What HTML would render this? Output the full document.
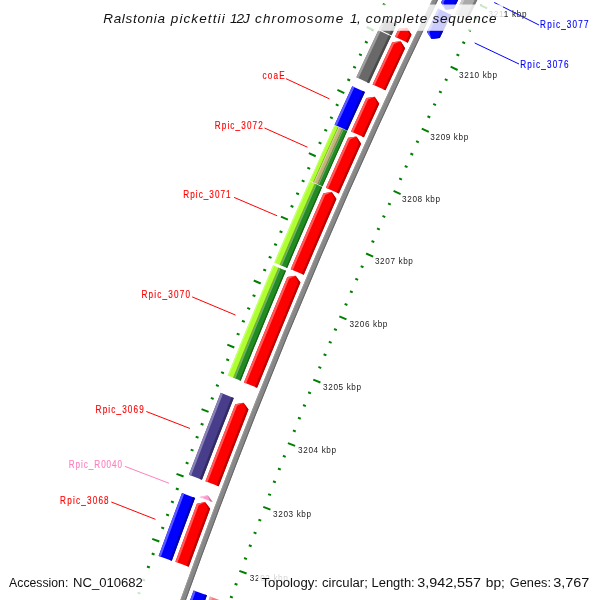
<!DOCTYPE html>
<html><head><meta charset="utf-8"><style>
html,body{margin:0;padding:0;background:#fff;}
svg{display:block;}
text{font-family:"Liberation Sans",sans-serif;}
svg{will-change:transform;}
.kb{font-size:8.2px;fill:#222;}
.gl{font-size:10.2px;}
</style></head><body>
<svg width="600" height="600" viewBox="0 0 600 600">
<rect width="600" height="600" fill="#fff"/>
<path d="M161.83,652.43A6141.4,6141.4 0 0 1 469.78,-76.60L474.52,-74.22A6136.1,6136.1 0 0 0 166.84,654.17Z" fill="#888888"/>
<path d="M161.83,652.43A6141.4,6141.4 0 0 1 469.78,-76.60L470.63,-76.17A6140.4,6140.4 0 0 0 162.73,652.74Z" fill="#9a9a9a"/>
<path d="M165.93,653.86A6137.0,6137.0 0 0 1 473.67,-74.65L474.52,-74.22A6136.1,6136.1 0 0 0 166.84,654.17Z" fill="#666666"/>
<path d="M158.64,555.97A6176.8,6176.8 0 0 1 182.00,492.99L195.10,497.93A6162.8,6162.8 0 0 0 171.79,560.77Z" fill="#0000ff"/>
<path d="M158.64,555.97A6176.8,6176.8 0 0 1 182.00,492.99L184.25,493.83A6174.4,6174.4 0 0 0 160.89,556.80Z" fill="#5959ff"/>
<path d="M169.54,559.95A6165.2,6165.2 0 0 1 192.86,497.08L195.10,497.93A6162.8,6162.8 0 0 0 171.79,560.77Z" fill="#0000b2"/>
<path d="M188.88,474.85A6176.8,6176.8 0 0 1 220.76,392.87L233.77,398.04A6162.8,6162.8 0 0 0 201.96,479.83Z" fill="#483d8b"/>
<path d="M188.88,474.85A6176.8,6176.8 0 0 1 220.76,392.87L222.99,393.76A6174.4,6174.4 0 0 0 191.12,475.70Z" fill="#8881b4"/>
<path d="M199.72,478.98A6165.2,6165.2 0 0 1 231.54,397.15L233.77,398.04A6162.8,6162.8 0 0 0 201.96,479.83Z" fill="#322b61"/>
<path d="M227.69,375.50A6176.8,6176.8 0 0 1 273.06,265.35L279.50,268.08A6169.8,6169.8 0 0 0 234.19,378.10Z" fill="#adff2f"/>
<path d="M227.69,375.50A6176.8,6176.8 0 0 1 273.06,265.35L274.22,265.84A6175.5,6175.5 0 0 0 228.86,375.97Z" fill="#caff78"/>
<path d="M233.02,377.64A6171.0,6171.0 0 0 1 278.34,267.59L279.50,268.08A6169.8,6169.8 0 0 0 234.19,378.10Z" fill="#79b221"/>
<path d="M234.19,378.10A6169.8,6169.8 0 0 1 279.50,268.08L285.95,270.81A6162.8,6162.8 0 0 0 240.68,380.71Z" fill="#228b22"/>
<path d="M234.19,378.10A6169.8,6169.8 0 0 1 279.50,268.08L280.66,268.57A6168.5,6168.5 0 0 0 235.36,378.57Z" fill="#6fb46f"/>
<path d="M239.51,380.24A6164.0,6164.0 0 0 1 284.79,270.31L285.95,270.81A6162.8,6162.8 0 0 0 240.68,380.71Z" fill="#186118"/>
<path d="M274.27,262.48A6176.8,6176.8 0 0 1 309.37,181.29L315.77,184.12A6169.8,6169.8 0 0 0 280.72,265.21Z" fill="#adff2f"/>
<path d="M274.27,262.48A6176.8,6176.8 0 0 1 309.37,181.29L310.52,181.80A6175.5,6175.5 0 0 0 275.43,262.97Z" fill="#caff78"/>
<path d="M279.56,264.72A6171.0,6171.0 0 0 1 314.62,183.61L315.77,184.12A6169.8,6169.8 0 0 0 280.72,265.21Z" fill="#79b221"/>
<path d="M280.72,265.21A6169.8,6169.8 0 0 1 315.77,184.12L322.18,186.94A6162.8,6162.8 0 0 0 287.16,267.94Z" fill="#228b22"/>
<path d="M280.72,265.21A6169.8,6169.8 0 0 1 315.77,184.12L316.93,184.62A6168.5,6168.5 0 0 0 281.88,265.70Z" fill="#6fb46f"/>
<path d="M286.00,267.45A6164.0,6164.0 0 0 1 321.03,186.43L322.18,186.94A6162.8,6162.8 0 0 0 287.16,267.94Z" fill="#186118"/>
<path d="M309.65,180.66A6176.8,6176.8 0 0 1 334.46,125.14L338.71,127.06A6172.1,6172.1 0 0 0 313.92,182.54Z" fill="#adff2f"/>
<path d="M309.65,180.66A6176.8,6176.8 0 0 1 334.46,125.14L335.28,125.51A6175.9,6175.9 0 0 0 310.47,181.02Z" fill="#caff78"/>
<path d="M313.09,182.18A6173.0,6173.0 0 0 1 337.89,126.69L338.71,127.06A6172.1,6172.1 0 0 0 313.92,182.54Z" fill="#79b221"/>
<path d="M313.92,182.54A6172.1,6172.1 0 0 1 338.71,127.06L342.96,128.99A6167.4,6167.4 0 0 0 318.19,184.42Z" fill="#c0b476"/>
<path d="M313.92,182.54A6172.1,6172.1 0 0 1 338.71,127.06L339.53,127.43A6171.2,6171.2 0 0 0 314.74,182.91Z" fill="#d6cea6"/>
<path d="M317.36,184.06A6168.3,6168.3 0 0 1 342.14,128.62L342.96,128.99A6167.4,6167.4 0 0 0 318.19,184.42Z" fill="#867e53"/>
<path d="M318.19,184.42A6167.4,6167.4 0 0 1 342.96,128.99L347.21,130.91A6162.8,6162.8 0 0 0 322.46,186.31Z" fill="#228b22"/>
<path d="M318.19,184.42A6167.4,6167.4 0 0 1 342.96,128.99L343.78,129.36A6166.5,6166.5 0 0 0 319.01,184.79Z" fill="#6fb46f"/>
<path d="M321.63,185.94A6163.7,6163.7 0 0 1 346.39,130.54L347.21,130.91A6162.8,6162.8 0 0 0 322.46,186.31Z" fill="#186118"/>
<path d="M334.60,124.82A6176.8,6176.8 0 0 1 352.24,86.21L364.96,92.07A6162.8,6162.8 0 0 0 347.35,130.60Z" fill="#0000ff"/>
<path d="M334.60,124.82A6176.8,6176.8 0 0 1 352.24,86.21L354.42,87.21A6174.4,6174.4 0 0 0 336.78,125.81Z" fill="#5959ff"/>
<path d="M345.17,129.61A6165.2,6165.2 0 0 1 362.78,91.06L364.96,92.07A6162.8,6162.8 0 0 0 347.35,130.60Z" fill="#0000b2"/>
<path d="M356.37,77.28A6176.8,6176.8 0 0 1 378.39,30.23L391.05,36.22A6162.8,6162.8 0 0 0 369.07,83.16Z" fill="#696969"/>
<path d="M356.37,77.28A6176.8,6176.8 0 0 1 378.39,30.23L380.56,31.26A6174.4,6174.4 0 0 0 358.55,78.29Z" fill="#9e9e9e"/>
<path d="M366.90,82.15A6165.2,6165.2 0 0 1 388.88,35.19L391.05,36.22A6162.8,6162.8 0 0 0 369.07,83.16Z" fill="#4a4a4a"/>
<path d="M378.84,29.29A6176.8,6176.8 0 0 1 384.19,18.03L396.83,24.05A6162.8,6162.8 0 0 0 391.49,35.28Z" fill="#696969"/>
<path d="M378.84,29.29A6176.8,6176.8 0 0 1 384.19,18.03L386.35,19.06A6174.4,6174.4 0 0 0 381.01,30.32Z" fill="#9e9e9e"/>
<path d="M389.32,34.26A6165.2,6165.2 0 0 1 394.66,23.02L396.83,24.05A6162.8,6162.8 0 0 0 391.49,35.28Z" fill="#4a4a4a"/>
<path d="M175.36,561.78A6159.1,6159.1 0 0 1 196.86,503.76L205.09,502.06L210.15,508.76A6144.9,6144.9 0 0 0 188.70,566.65Z" fill="#ff0000"/>
<path d="M175.36,561.78L196.86,503.76L205.09,502.06L198.72,505.34L177.52,562.57Z" fill="#ff5959"/>
<path d="M188.70,566.65L210.15,508.76L205.09,502.06L207.71,508.72L186.54,565.86Z" fill="#bf0000"/>
<path d="M205.42,481.15A6159.1,6159.1 0 0 1 235.30,404.22L243.55,402.66L248.50,409.45A6144.9,6144.9 0 0 0 218.69,486.20Z" fill="#ff0000"/>
<path d="M205.42,481.15L235.30,404.22L243.55,402.66L237.13,405.84L207.57,481.97Z" fill="#ff5959"/>
<path d="M218.69,486.20L248.50,409.45L243.55,402.66L246.06,409.37L216.54,485.38Z" fill="#bf0000"/>
<path d="M243.94,382.53A6159.1,6159.1 0 0 1 287.34,277.02L295.63,275.65L300.42,282.54A6144.9,6144.9 0 0 0 257.12,387.81Z" fill="#ff0000"/>
<path d="M243.94,382.53L287.34,277.02L295.63,275.65L289.14,278.68L246.07,383.39Z" fill="#ff5959"/>
<path d="M257.12,387.81L300.42,282.54L295.63,275.65L297.98,282.41L254.99,386.96Z" fill="#bf0000"/>
<path d="M290.65,269.20A6159.1,6159.1 0 0 1 323.42,193.30L331.73,192.05L336.42,199.02A6144.9,6144.9 0 0 0 303.73,274.74Z" fill="#ff0000"/>
<path d="M290.65,269.20L323.42,193.30L331.73,192.05L325.19,194.98L292.77,270.09Z" fill="#ff5959"/>
<path d="M303.73,274.74L336.42,199.02L331.73,192.05L333.98,198.85L301.61,273.84Z" fill="#bf0000"/>
<path d="M325.84,187.80A6159.1,6159.1 0 0 1 348.16,137.79L356.48,136.62L361.10,143.63A6144.9,6144.9 0 0 0 338.84,193.53Z" fill="#ff0000"/>
<path d="M325.84,187.80L348.16,137.79L356.48,136.62L349.92,139.49L327.95,188.73Z" fill="#ff5959"/>
<path d="M338.84,193.53L361.10,143.63L356.48,136.62L358.67,143.44L336.73,192.60Z" fill="#bf0000"/>
<path d="M351.01,131.49A6159.1,6159.1 0 0 1 366.35,97.88L374.68,96.78L379.25,103.82A6144.9,6144.9 0 0 0 363.94,137.35Z" fill="#ff0000"/>
<path d="M351.01,131.49L366.35,97.88L374.68,96.78L368.10,99.60L353.10,132.44Z" fill="#ff5959"/>
<path d="M363.94,137.35L379.25,103.82L374.68,96.78L376.82,103.61L361.85,136.40Z" fill="#bf0000"/>
<path d="M372.58,84.40A6159.1,6159.1 0 0 1 392.27,42.30L400.60,41.28L405.11,48.36A6144.9,6144.9 0 0 0 385.46,90.37Z" fill="#ff0000"/>
<path d="M372.58,84.40L392.27,42.30L400.60,41.28L393.99,44.03L374.66,85.37Z" fill="#ff5959"/>
<path d="M385.46,90.37L405.11,48.36L400.60,41.28L402.68,48.13L383.37,89.40Z" fill="#bf0000"/>
<path d="M394.93,36.68A6159.1,6159.1 0 0 1 398.68,28.76L407.02,27.75L411.51,34.85A6144.9,6144.9 0 0 0 407.76,42.76Z" fill="#ff0000"/>
<path d="M394.93,36.68L398.68,28.76L407.02,27.75L400.41,30.49L397.00,37.67Z" fill="#ff5959"/>
<path d="M407.76,42.76L411.51,34.85L407.02,27.75L409.08,34.61L405.68,41.77Z" fill="#bf0000"/>
<path d="M199.42,496.97A6159.1,6159.1 0 0 1 199.42,496.97L207.65,495.28L212.70,501.99A6144.9,6144.9 0 0 0 212.70,501.99Z" fill="#ff99cc"/>
<path d="M199.42,496.97L199.42,496.97L207.65,495.28L201.28,498.56L201.57,497.78Z" fill="#ffbdde"/>
<path d="M212.70,501.99L212.70,501.99L207.65,495.28L210.26,501.95L210.55,501.17Z" fill="#bf7399"/>
<path d="M193.59,590.39A6132.2,6132.2 0 0 0 158.52,690.23L163.80,696.75L171.96,694.82A6118.0,6118.0 0 0 1 206.95,595.21Z" fill="#0000ff"/>
<path d="M193.59,590.39L158.52,690.23L163.80,696.75L160.96,690.20L195.76,591.17Z" fill="#5959ff"/>
<path d="M206.95,595.21L171.96,694.82L163.80,696.75L170.05,693.30L204.79,594.43Z" fill="#0000bf"/>
<path d="M438.15,8.61A6132.2,6132.2 0 0 0 426.94,31.98L431.43,39.07L439.76,38.10A6118.0,6118.0 0 0 1 450.94,14.78Z" fill="#0000ff"/>
<path d="M438.15,8.61L426.94,31.98L431.43,39.07L429.37,32.23L440.23,9.61Z" fill="#5959ff"/>
<path d="M450.94,14.78L439.76,38.10L431.43,39.07L438.04,36.37L448.87,13.78Z" fill="#0000bf"/>
<path d="M463.61,-43.54A6132.2,6132.2 0 0 0 441.06,2.61L445.50,9.72L453.84,8.79A6118.0,6118.0 0 0 1 476.35,-37.25Z" fill="#0000ff"/>
<path d="M463.61,-43.54L441.06,2.61L445.50,9.72L443.49,2.86L465.68,-42.52Z" fill="#5959ff"/>
<path d="M476.35,-37.25L453.84,8.79L445.50,9.72L452.13,7.05L474.28,-38.27Z" fill="#0000bf"/>
<path d="M173.64,700.11A6114.7,6114.7 0 0 1 209.96,596.59L223.13,601.34A6100.7,6100.7 0 0 0 186.89,704.62Z" fill="#f08080"/>
<path d="M173.64,700.11A6114.7,6114.7 0 0 1 209.96,596.59L212.22,597.41A6112.3,6112.3 0 0 0 175.91,700.88Z" fill="#f5acac"/>
<path d="M184.62,703.85A6103.1,6103.1 0 0 1 220.87,600.53L223.13,601.34A6100.7,6100.7 0 0 0 186.89,704.62Z" fill="#a85a5a"/>
<path d="M454.93,14.12A6114.7,6114.7 0 0 1 479.30,-35.79L491.86,-29.59A6100.7,6100.7 0 0 0 467.54,20.20Z" fill="#aaaaaa"/>
<path d="M454.93,14.12A6114.7,6114.7 0 0 1 479.30,-35.79L481.46,-34.73A6112.3,6112.3 0 0 0 457.09,15.16Z" fill="#c8c8c8"/>
<path d="M465.38,19.16A6103.1,6103.1 0 0 1 489.70,-30.65L491.86,-29.59A6100.7,6100.7 0 0 0 467.54,20.20Z" fill="#777777"/>
<path d="M202.55,673.85L205.39,674.84M122.02,645.90L119.18,644.92M207.05,660.94L209.88,661.93M126.58,632.81L123.74,631.82M211.58,648.04L214.41,649.04M131.17,619.73L128.34,618.73M216.13,635.15L223.39,637.73M135.78,606.66L128.67,604.14M220.72,622.27L223.54,623.28M140.43,593.60L137.61,592.59M225.33,609.41L228.15,610.42M145.11,580.55L142.29,579.54M229.97,596.55L232.79,597.57M149.82,567.51L147.00,566.49M234.64,583.70L237.46,584.73M154.55,554.48L151.73,553.46M239.34,570.86L246.57,573.52M159.32,541.47L152.23,538.86M244.07,558.03L246.88,559.07M164.11,528.46L161.30,527.42M248.82,545.22L251.64,546.26M168.93,515.46L166.12,514.42M253.61,532.41L256.42,533.46M173.79,502.48L170.98,501.43M258.42,519.62L261.23,520.67M178.67,489.50L175.86,488.45M263.27,506.83L270.46,509.57M183.58,476.54L176.52,473.86M268.14,494.06L270.94,495.13M188.52,463.59L185.72,462.52M273.04,481.29L275.84,482.37M193.49,450.65L190.69,449.57M277.97,468.54L280.76,469.63M198.49,437.72L195.69,436.63M282.93,455.80L285.72,456.89M203.51,424.80L200.72,423.71M287.91,443.07L295.08,445.89M208.57,411.89L201.54,409.13M292.93,430.36L295.72,431.46M213.65,399.00L210.86,397.89M297.97,417.65L300.76,418.76M218.77,386.11L215.98,385.00M303.04,404.95L305.82,406.07M223.91,373.24L221.12,372.12M308.14,392.27L310.92,393.39M229.08,360.38L226.30,359.26M313.27,379.60L320.40,382.49M234.28,347.53L227.28,344.69M318.43,366.94L321.20,368.07M239.51,334.69L236.73,333.56M323.61,354.29L326.38,355.43M244.77,321.86L241.99,320.72M328.82,341.65L331.60,342.80M250.05,309.05L247.28,307.90M334.07,329.02L336.84,330.18M255.37,296.25L252.60,295.09M339.34,316.41L346.44,319.38M260.71,283.46L253.75,280.54M344.63,303.81L347.40,304.97M266.08,270.68L263.32,269.51M349.96,291.22L352.72,292.39M271.49,257.91L268.72,256.74M355.32,278.64L358.08,279.81M276.92,245.16L274.16,243.98M360.70,266.07L363.46,267.25M282.37,232.41L279.62,231.23M366.11,253.52L373.18,256.57M287.86,219.68L280.93,216.69M371.55,240.97L374.30,242.17M293.38,206.97L290.63,205.77M377.02,228.44L379.77,229.65M298.92,194.26L296.17,193.06M382.51,215.93L385.26,217.13M304.49,181.57L301.75,180.36M388.04,203.42L390.78,204.64M310.09,168.89L307.35,167.67M393.59,190.93L400.62,194.06M315.72,156.22L308.83,153.15M399.17,178.45L401.91,179.67M321.38,143.57L318.64,142.34M404.78,165.98L407.51,167.21M327.07,130.92L324.33,129.69M410.41,153.52L413.14,154.76M332.78,118.29L330.05,117.05M416.08,141.08L418.80,142.33M338.52,105.68L335.80,104.43M421.77,128.65L428.76,131.86M344.30,93.07L337.43,89.92M427.49,116.23L430.21,117.49M350.09,80.48L347.37,79.22M433.23,103.83L435.95,105.09M355.92,67.90L353.20,66.64M439.01,91.44L441.73,92.71M361.78,55.34L359.06,54.07M444.81,79.06L447.53,80.34M367.66,42.79L364.95,41.51M450.64,66.70L457.60,69.99M373.57,30.25L366.75,27.02M456.50,54.34L459.21,55.63M379.51,17.73L376.80,16.44M462.39,42.00L465.09,43.30M385.48,5.21L382.78,3.92M468.30,29.68L471.00,30.98M391.48,-7.28L388.78,-8.58M474.24,17.37L476.94,18.67M397.50,-19.77L394.80,-21.08M480.21,5.07L487.13,8.44M403.55,-32.24L396.77,-35.54M486.21,-7.22L488.90,-5.90M409.64,-44.70L406.94,-46.02M492.23,-19.49L494.92,-18.17M415.74,-57.14L413.05,-58.47M498.28,-31.75L500.97,-30.42M421.88,-69.57L419.19,-70.90M504.36,-44.00L507.04,-42.66M428.04,-81.99L425.36,-83.32M510.47,-56.23L517.35,-52.78M434.23,-94.39L427.48,-97.77" stroke="#008000" stroke-width="2" fill="none"/>
<line x1="286.0" y1="78.7" x2="329.30" y2="98.79" stroke="#ff0000" stroke-width="1"/>
<text transform="translate(262.40,79.0) scale(0.8,1)" x="0" y="0" fill="#ff0000" stroke="#ff0000" stroke-width="0.15" class="gl" textLength="28.0" lengthAdjust="spacing">coaE</text>
<line x1="264.5" y1="128.0" x2="307.43" y2="147.20" stroke="#ff0000" stroke-width="1"/>
<text transform="translate(214.70,128.7) scale(0.8,1)" x="0" y="0" fill="#ff0000" stroke="#ff0000" stroke-width="0.15" class="gl" textLength="60.1" lengthAdjust="spacing">Rpic_3072</text>
<line x1="234.1" y1="197.4" x2="277.26" y2="215.86" stroke="#ff0000" stroke-width="1"/>
<text transform="translate(183.30,198.0) scale(0.8,1)" x="0" y="0" fill="#ff0000" stroke="#ff0000" stroke-width="0.15" class="gl" textLength="59.1" lengthAdjust="spacing">Rpic_3071</text>
<line x1="192.2" y1="296.9" x2="235.42" y2="315.02" stroke="#ff0000" stroke-width="1"/>
<text transform="translate(141.50,298.0) scale(0.8,1)" x="0" y="0" fill="#ff0000" stroke="#ff0000" stroke-width="0.15" class="gl" textLength="60.7" lengthAdjust="spacing">Rpic_3070</text>
<line x1="146.3" y1="411.5" x2="190.01" y2="428.47" stroke="#ff0000" stroke-width="1"/>
<text transform="translate(95.60,413.0) scale(0.8,1)" x="0" y="0" fill="#ff0000" stroke="#ff0000" stroke-width="0.15" class="gl" textLength="60.2" lengthAdjust="spacing">Rpic_3069</text>
<line x1="124.8" y1="466.3" x2="169.00" y2="483.26" stroke="#ff80c0" stroke-width="1"/>
<text transform="translate(68.70,468.0) scale(0.8,1)" x="0" y="0" fill="#ff80c0" stroke="#ff80c0" stroke-width="0.15" class="gl" textLength="66.8" lengthAdjust="spacing">Rpic_R0040</text>
<line x1="111.3" y1="502.0" x2="155.49" y2="519.35" stroke="#ff0000" stroke-width="1"/>
<text transform="translate(60.10,503.7) scale(0.8,1)" x="0" y="0" fill="#ff0000" stroke="#ff0000" stroke-width="0.15" class="gl" textLength="60.7" lengthAdjust="spacing">Rpic_3068</text>
<line x1="539.0" y1="25.0" x2="494.26" y2="2.49" stroke="#0000ff" stroke-width="1"/>
<text transform="translate(540.10,28.0) scale(0.8,1)" x="0" y="0" fill="#0000ff" stroke="#0000ff" stroke-width="0.15" class="gl" textLength="60.6" lengthAdjust="spacing">Rpic_3077</text>
<line x1="519.0" y1="64.0" x2="474.67" y2="42.97" stroke="#0000ff" stroke-width="1"/>
<text transform="translate(520.30,68.0) scale(0.8,1)" x="0" y="0" fill="#0000ff" stroke="#0000ff" stroke-width="0.15" class="gl" textLength="60.4" lengthAdjust="spacing">Rpic_3076</text>
<text x="224.79" y="645.33" class="kb" textLength="38" lengthAdjust="spacing">3201 kbp</text>
<text x="249.85" y="580.75" class="kb" textLength="38" lengthAdjust="spacing">3202 kbp</text>
<text x="273.10" y="516.80" class="kb" textLength="38" lengthAdjust="spacing">3203 kbp</text>
<text x="298.10" y="452.75" class="kb" textLength="38" lengthAdjust="spacing">3204 kbp</text>
<text x="323.10" y="389.75" class="kb" textLength="38" lengthAdjust="spacing">3205 kbp</text>
<text x="349.40" y="326.50" class="kb" textLength="38" lengthAdjust="spacing">3206 kbp</text>
<text x="374.90" y="264.00" class="kb" textLength="38" lengthAdjust="spacing">3207 kbp</text>
<text x="402.10" y="201.50" class="kb" textLength="38" lengthAdjust="spacing">3208 kbp</text>
<text x="430.30" y="139.80" class="kb" textLength="38" lengthAdjust="spacing">3209 kbp</text>
<text x="459.10" y="78.00" class="kb" textLength="38" lengthAdjust="spacing">3210 kbp</text>
<text x="488.60" y="16.50" class="kb" textLength="38" lengthAdjust="spacing">3211 kbp</text>
<text x="518.75" y="-45.18" class="kb" textLength="38" lengthAdjust="spacing">3212 kbp</text>
<rect x="97" y="4.5" width="406" height="26.3" fill="#fff" fill-opacity="0.8"/>
<text x="103.20" y="22.8" font-style="italic" font-size="13.5" fill="#111" textLength="61.76" lengthAdjust="spacing">Ralstonia</text>
<text x="170.80" y="22.8" font-style="italic" font-size="13.5" fill="#111" textLength="53.84" lengthAdjust="spacing">pickettii</text>
<text x="230.00" y="22.8" font-style="italic" font-size="13.5" fill="#111" textLength="19.66" lengthAdjust="spacing">12J</text>
<text x="255.00" y="22.8" font-style="italic" font-size="13.5" fill="#111" textLength="88.22" lengthAdjust="spacing">chromosome</text>
<text x="350.00" y="22.8" font-style="italic" font-size="13.5" fill="#111" textLength="10.72" lengthAdjust="spacing">1,</text>
<text x="365.80" y="22.8" font-style="italic" font-size="13.5" fill="#111" textLength="61.45" lengthAdjust="spacing">complete</text>
<text x="432.50" y="22.8" font-style="italic" font-size="13.5" fill="#111" textLength="64.14" lengthAdjust="spacing">sequence</text>
<rect x="3" y="572" width="144" height="28" fill="#fff" fill-opacity="0.8"/>
<rect x="258" y="572" width="338" height="28" fill="#fff" fill-opacity="0.8"/>
<text x="9.10" y="587" font-size="12" fill="#111" textLength="59.19" lengthAdjust="spacingAndGlyphs">Accession:</text>
<text x="73.00" y="587" font-size="12" fill="#111" textLength="69.92" lengthAdjust="spacingAndGlyphs">NC_010682</text>
<text x="261.50" y="587" font-size="12" fill="#111" textLength="56.48" lengthAdjust="spacingAndGlyphs">Topology:</text>
<text x="322.00" y="587" font-size="12" fill="#111" textLength="45.87" lengthAdjust="spacingAndGlyphs">circular;</text>
<text x="371.50" y="587" font-size="12" fill="#111" textLength="43.20" lengthAdjust="spacingAndGlyphs">Length:</text>
<text x="417.30" y="587" font-size="12" fill="#111" textLength="63.66" lengthAdjust="spacingAndGlyphs">3,942,557</text>
<text x="485.80" y="587" font-size="12" fill="#111" textLength="19.11" lengthAdjust="spacingAndGlyphs">bp;</text>
<text x="509.80" y="587" font-size="12" fill="#111" textLength="41.17" lengthAdjust="spacingAndGlyphs">Genes:</text>
<text x="553.20" y="587" font-size="12" fill="#111" textLength="36.23" lengthAdjust="spacingAndGlyphs">3,767</text>
</svg>
</body></html>
